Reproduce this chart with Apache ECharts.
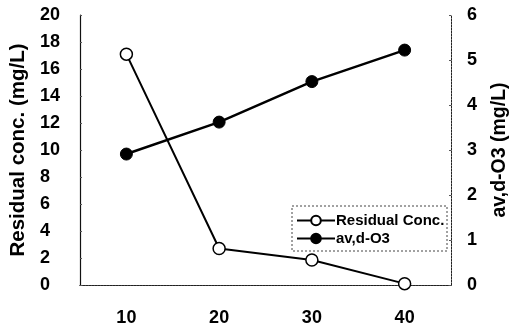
<!DOCTYPE html>
<html>
<head>
<meta charset="utf-8">
<script src="https://cdn.jsdelivr.net/npm/echarts@6/dist/echarts.min.js"></script>
<style>
  html, body { margin: 0; padding: 0; background: #fff; }
  #chart { width: 518px; height: 330px; }
</style>
</head>
<body>
<div id="chart"></div>
<script>
// Ozone dose series: residual concentration (left axis) and av,d-O3 (right axis)
const categories = ['10', '20', '30', '40'];
const residualConc = [17.1, 2.7, 1.85, 0.1];
const avdO3 = [2.91, 3.62, 4.52, 5.22];
const leftTicks = { min: 0, max: 20, interval: 2 };
const rightTicks = { min: 0, max: 6, interval: 1 };

const FONT = '"Liberation Sans", Arial, sans-serif';
const chart = echarts.init(document.getElementById('chart'));

const dotted = { color: '#222', width: 1, type: [2, 1] };

chart.setOption({
  animation: false,
  backgroundColor: '#fff',
  grid: { left: 80, right: 56, top: 15, bottom: 45 },
  xAxis: [
    {
      type: 'category',
      data: categories,
      boundaryGap: true,
      axisLine: { lineStyle: dotted },
      axisTick: { show: false },
      axisLabel: { margin: 24, fontFamily: FONT, fontWeight: 'bold', fontSize: 18, color: '#000' }
    },
    {
      type: 'category',
      position: 'top',
      data: categories,
      axisLine: { lineStyle: dotted },
      axisTick: { show: false },
      axisLabel: { show: false }
    }
  ],
  yAxis: [
    {
      type: 'value',
      position: 'left',
      min: leftTicks.min, max: leftTicks.max, interval: leftTicks.interval,
      name: 'Residual conc. (mg/L)',
      nameLocation: 'middle',
      nameGap: 51,
      nameTextStyle: { fontFamily: FONT, fontWeight: 'bold', fontSize: 20.5, color: '#000' },
      axisLine: { show: true, lineStyle: { color: '#111', width: 1.2 } },
      axisTick: { show: true, inside: true, length: 2, lineStyle: { color: '#555' } },
      splitLine: { show: false },
      axisLabel: { margin: 40, align: 'left', fontFamily: FONT, fontWeight: 'bold', fontSize: 18, color: '#000' }
    },
    {
      type: 'value',
      position: 'right',
      min: rightTicks.min, max: rightTicks.max, interval: rightTicks.interval,
      name: 'av,d-O3 (mg/L)',
      nameLocation: 'middle',
      nameGap: 39,
      nameTextStyle: { fontFamily: FONT, fontWeight: 'bold', fontSize: 19.5, color: '#000' },
      axisLine: { show: true, lineStyle: dotted },
      axisTick: { show: true, inside: true, length: 2, lineStyle: { color: '#555' } },
      splitLine: { show: false },
      axisLabel: { margin: 16, align: 'left', fontFamily: FONT, fontWeight: 'bold', fontSize: 18, color: '#000' }
    }
  ],
  legend: {
    orient: 'vertical',
    left: 296,
    top: 213,
    itemWidth: 38,
    itemHeight: 12,
    itemGap: 3,
    padding: 0,
    textStyle: { fontFamily: FONT, fontWeight: 'bold', fontSize: 15, color: '#000', padding: [0, 0, 0, -4] },
    data: ['Residual Conc.', 'av,d-O3']
  },
  graphic: [
    {
      type: 'rect',
      shape: { x: 292, y: 206, width: 155, height: 45 },
      style: { fill: 'none', stroke: '#444', lineWidth: 1, lineDash: [2, 2] },
      z: 1
    }
  ],
  series: [
    {
      name: 'Residual Conc.',
      type: 'line',
      yAxisIndex: 0,
      data: residualConc,
      symbol: 'circle',
      symbolSize: 12,
      lineStyle: { color: '#000', width: 2 },
      itemStyle: { color: '#fff', borderColor: '#000', borderWidth: 1.5 },
      z: 3
    },
    {
      name: 'av,d-O3',
      type: 'line',
      yAxisIndex: 1,
      data: avdO3,
      symbol: 'circle',
      symbolSize: 12,
      lineStyle: { color: '#000', width: 2.5 },
      itemStyle: { color: '#000', borderColor: '#000', borderWidth: 1 },
      z: 3
    }
  ]
});
</script>
</body>
</html>
